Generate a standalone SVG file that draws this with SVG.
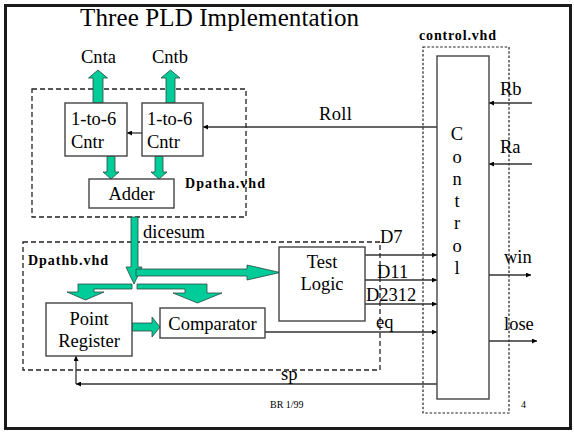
<svg xmlns="http://www.w3.org/2000/svg" width="574" height="432" viewBox="0 0 574 432">
  <style>
    text { font-family: "Liberation Serif", "Times New Roman", serif; fill: #000; }
    .lbl { font-size: 18.5px; }
    .tag { font-size: 14px; font-weight: bold; }
    .small { font-size: 10px; }
    .box { fill: #fff; stroke: #444; stroke-width: 1.4; }
    .dash { fill: none; stroke: #222; stroke-width: 1.3; stroke-dasharray: 5 3; }
    .dot { fill: none; stroke: #222; stroke-width: 1.2; stroke-dasharray: 2.5 1.8; }
    .bus { fill: #00cc99; stroke: #2a4a40; stroke-width: 0.8; }
    .wire { fill: none; stroke: #333; stroke-width: 1.3; }
    .arr { marker-end: url(#tip); }
  </style>
  <defs>
    <marker id="tip" viewBox="0 0 10 10" refX="10" refY="5" markerWidth="5" markerHeight="5" markerUnits="userSpaceOnUse" orient="auto">
      <path d="M0,0 L10,5 L0,10 Z" fill="#000"/>
    </marker>
  </defs>

  <!-- page frame -->
  <rect x="5.5" y="5.5" width="565" height="423" fill="#fff" stroke="#1a1a1a" stroke-width="3"/>
  <text x="80" y="26" style="font-size:25px" textLength="279">Three PLD Implementation</text>

  <!-- module outlines -->
  <g id="dpatha">
    <rect class="dash" x="32" y="89" width="214" height="128"/>
    <text class="tag" x="185" y="188" textLength="80">Dpatha.vhd</text>
  </g>
  <g id="dpathb">
    <rect class="dash" x="23" y="242" width="357" height="128"/>
    <text class="tag" x="28" y="265" textLength="80">Dpathb.vhd</text>
  </g>
  <g id="control-vhd">
    <rect class="dot" x="423" y="47" width="86" height="366"/>
    <text class="tag" x="419" y="40" textLength="77">control.vhd</text>
  </g>

  <!-- green data buses -->
  <g id="buses">
    <path class="bus" d="M93,103 V78 H88.5 L98,70 L107.5,78 H103 V103 Z"/>
    <path class="bus" d="M166,103 V78 H161 L170.5,70 L180,78 H175 V103 Z"/>
    <path class="bus" d="M107,156 V172 H103 L111,179 L119,172 H115 V156 Z"/>
    <path class="bus" d="M155,156 V172 H151 L159,179 L167,172 H163 V156 Z"/>
    <path class="bus" d="M131,217 V267 H126 L134,284 L142,267 H138 V217 Z"/>
    <path class="bus" d="M136,269 H247 V265 L280,272.5 L247,280 V276 H136 Z"/>
    <path class="bus" d="M132,284 H78 V292 H67 L85.5,300 L104,292 H94 V289 H132 Z"/>
    <path class="bus" d="M137,284 H207 V293 H222 L197.5,303 L173,293 H185 V289 H137 Z"/>
    <path class="bus" d="M132,323 H152 V317 L160,327 L152,337 V331 H132 Z"/>
  </g>

  <!-- control and signal wires -->
  <g id="connectors">
    <line class="wire arr" x1="437" y1="127" x2="203" y2="127"/>
    <line class="wire arr" x1="142" y1="133" x2="127" y2="133"/>
    <line class="wire arr" x1="532" y1="103" x2="489" y2="103"/>
    <line class="wire arr" x1="532" y1="164" x2="489" y2="164"/>
    <line class="wire arr" x1="365" y1="255" x2="437" y2="255"/>
    <line class="wire arr" x1="365" y1="280" x2="437" y2="280"/>
    <line class="wire arr" x1="365" y1="304" x2="437" y2="304"/>
    <line class="wire arr" x1="265" y1="332" x2="437" y2="332"/>
    <line class="wire arr" x1="489" y1="275" x2="531" y2="275"/>
    <line class="wire arr" x1="489" y1="341" x2="537" y2="341"/>
    <line class="wire arr" x1="437" y1="384" x2="76" y2="384"/>
    <line class="wire arr" x1="76" y1="384" x2="76" y2="356"/>
  </g>

  <!-- signal labels -->
  <g id="signal-labels" class="lbl">
    <text x="81" y="63" textLength="35">Cnta</text>
    <text x="152" y="63" textLength="36">Cntb</text>
    <text x="319" y="120" textLength="33">Roll</text>
    <text x="500" y="95">Rb</text>
    <text x="500" y="153">Ra</text>
    <text x="143" y="238" textLength="62">dicesum</text>
    <text x="380" y="243">D7</text>
    <text x="377" y="278">D11</text>
    <text x="366" y="301">D2312</text>
    <text x="376" y="328">eq</text>
    <text x="504" y="263">win</text>
    <text x="504" y="330">lose</text>
    <text x="281" y="380">sp</text>
  </g>

  <g id="cntr-a">
    <rect class="box" x="65" y="103" width="62" height="53"/>
    <text class="lbl" x="71" y="125">1-to-6</text>
    <text class="lbl" x="71" y="148">Cntr</text>
  </g>
  <g id="cntr-b">
    <rect class="box" x="142" y="103" width="61" height="53"/>
    <text class="lbl" x="147" y="125">1-to-6</text>
    <text class="lbl" x="147" y="148">Cntr</text>
  </g>
  <g id="adder">
    <rect class="box" x="89" y="179" width="85" height="29"/>
    <text class="lbl" x="131.5" y="200" text-anchor="middle">Adder</text>
  </g>
  <g id="test-logic">
    <rect class="box" x="279" y="247" width="86" height="74"/>
    <text class="lbl" x="322" y="268" text-anchor="middle">Test</text>
    <text class="lbl" x="322" y="290" text-anchor="middle">Logic</text>
  </g>
  <g id="point-register">
    <rect class="box" x="46" y="303" width="86" height="53"/>
    <text class="lbl" x="89" y="325" text-anchor="middle">Point</text>
    <text class="lbl" x="89" y="347" text-anchor="middle">Register</text>
  </g>
  <g id="comparator">
    <rect class="box" x="160" y="308" width="105" height="30"/>
    <text class="lbl" x="212.5" y="330" text-anchor="middle">Comparator</text>
  </g>
  <g id="control">
    <rect class="box" x="437" y="56" width="52" height="343"/>
    <g class="lbl" text-anchor="middle">
      <text x="457" y="140">C</text>
      <text x="457" y="163">o</text>
      <text x="457" y="185">n</text>
      <text x="457" y="207">t</text>
      <text x="457" y="229">r</text>
      <text x="457" y="252">o</text>
      <text x="457" y="274">l</text>
    </g>
  </g>

  <!-- footer -->
  <text class="small" x="270" y="408">BR 1/99</text>
  <text class="small" x="521" y="408">4</text>
</svg>
